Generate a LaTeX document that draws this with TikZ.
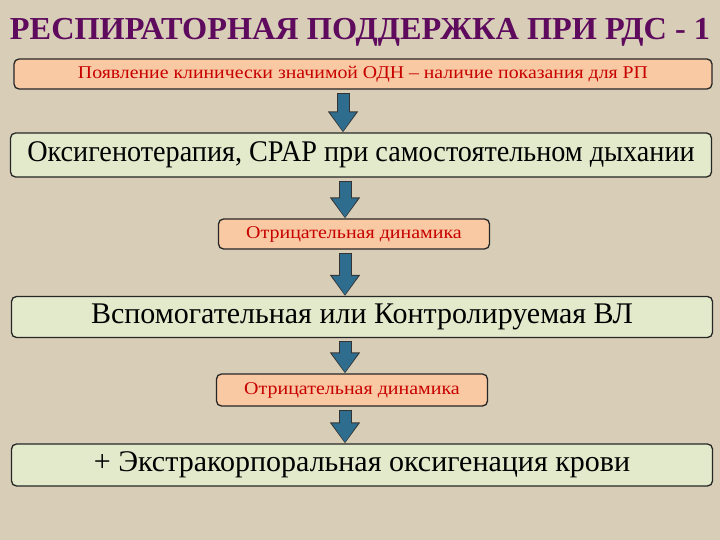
\documentclass[tikz,border=0pt]{standalone}
\usepackage{fontspec}
\setmainfont{Liberation Serif}
\usepackage{graphicx}
\usepackage{tikz}
\usetikzlibrary{positioning,arrows.meta}
\definecolor{slidebg}{HTML}{D8CEB8}
\definecolor{titlepurple}{HTML}{5E0B5E}
\definecolor{peachfill}{HTML}{F8C9A2}
\definecolor{greenfill}{HTML}{E2EACB}
\definecolor{darkred}{HTML}{C80000}
\definecolor{arrowblue}{HTML}{2F6D8F}

\begin{document}
\begin{tikzpicture}[x=1pt, y=-1pt,
  widebox/.style={draw=black!85, line width=1.3pt, rounded corners=5pt, fill=greenfill, minimum width=701pt, minimum height=44pt, inner sep=0pt, font=\fontsize{30}{33}\selectfont},
  notebox/.style={draw=black!85, line width=1.3pt, rounded corners=5pt, fill=peachfill, text=darkred, minimum height=30pt, inner sep=0pt, font=\fontsize{18}{21}\selectfont},
  flow/.style={line width=11pt, draw=arrowblue, shorten <=4pt, shorten >=1pt,
    -{Triangle[length=19pt, width=25pt]},
    preaction={draw=black!80, line width=13pt, shorten <=3pt, shorten >=0pt, -{Triangle[length=21pt, width=29pt]}}}
]
  \useasboundingbox (0,0) rectangle (720,540);
  \fill[slidebg] (0,0) rectangle (720,540);

  \node[text=titlepurple, font=\bfseries\fontsize{32}{36}\selectfont] (title) at (360,32) {\scalebox{1.01}[1]{РЕСПИРАТОРНАЯ ПОДДЕРЖКА ПРИ РДС - 1}};

  \node[notebox, minimum width=698pt, fill=peachfill] (need) at (363,74) {\scalebox{1.1}[1]{Появление клинически значимой ОДН – наличие показания для РП}};
  \node[widebox] (oxy) at (361,155) {\scalebox{0.94}[1]{Оксигенотерапия, CPAP при самостоятельном дыхании}};
  \node[notebox, minimum width=271pt] (neg1) at (354,234) {\scalebox{1.11}[1]{Отрицательная динамика}};
  \node[widebox, minimum height=41pt] (vent) at (362,317) {Вспомогательная или Контролируемая ВЛ};
  \node[notebox, minimum width=271pt, minimum height=32pt] (neg2) at (352,390) {\scalebox{1.11}[1]{Отрицательная динамика}};
  \node[widebox, minimum height=42pt] (ecmo) at (362,465) {+ Экстракорпоральная оксигенация крови};

  \draw[flow] (need.south -| 343,0) -- (oxy.north -| 343,0);
  \draw[flow] (oxy.south -| 345,0) -- (neg1.north -| 345,0);
  \draw[flow] (neg1.south -| 345,0) -- (vent.north -| 345,0);
  \draw[flow] (vent.south -| 345,0) -- (neg2.north -| 345,0);
  \draw[flow] (neg2.south -| 345,0) -- (ecmo.north -| 345,0);
\end{tikzpicture}
\end{document}
